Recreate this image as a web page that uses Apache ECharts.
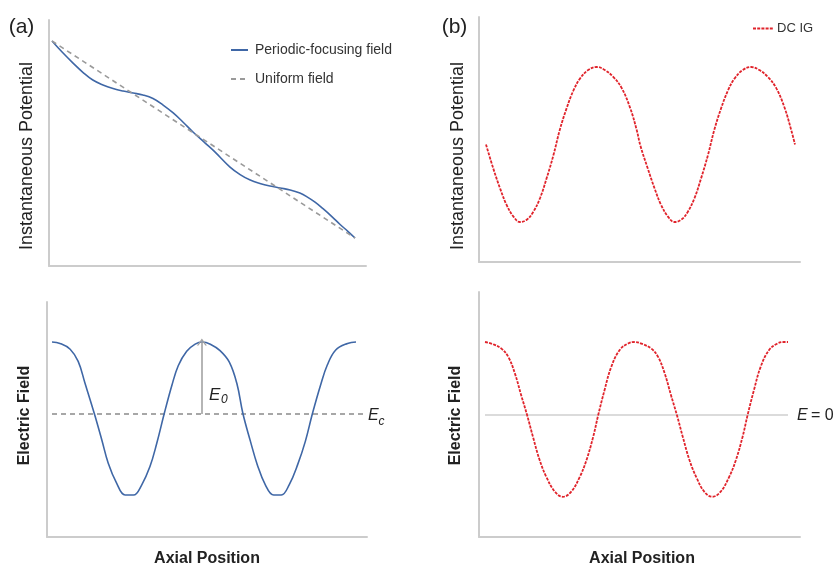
<!DOCTYPE html>
<html>
<head>
<meta charset="utf-8">
<script src="https://cdn.jsdelivr.net/npm/echarts@6/dist/echarts.min.js"></script>
<style>
  html, body { margin: 0; padding: 0; background: #ffffff; }
  #chart { width: 834px; height: 568px; }
</style>
</head>
<body>
<div id="chart"></div>
<script>
// ---------- Data (arbitrary units) ----------
// Panel (a) top: instantaneous potential vs axial position (phase units 0..720)
const axialPotA = [0,24,50,74,97,121,145,169,193,216,240,264,288,311,335,364,387,423,447,471,494,518,542,566,589,606,625,644,665,684,703,720];
const potentialPeriodic = [100,94.4,88.8,84.0,80.2,77.7,75.9,74.6,73.6,72.6,70.8,67.5,63.5,58.9,53.8,48.2,43.7,36.0,32.2,29.4,27.7,26.4,25.4,24.4,22.8,20.9,18.2,14.9,10.9,7.0,3.4,0];
const axialUniform = [0,720];
const potentialUniform = [100,0];

// Panel (a) bottom: electric field (periodic focusing)
const axialFieldA = [0,19,43,62,78,100,118,133,153,173,193,212,232,248,266,284,299,319,339,356,375,398,420,438,452,470,486,505,525,543,562,582,600,617,636,652,672,700,720];
const fieldPeriodic = [3.00,2.98,2.90,2.73,2.43,2.01,1.64,1.32,1.04,0.875,0.875,1.01,1.27,1.59,2.01,2.40,2.67,2.87,2.97,3.00,2.97,2.88,2.72,2.42,2.01,1.62,1.30,1.02,0.875,0.875,1.02,1.30,1.62,2.01,2.40,2.68,2.89,2.98,3.00];
const axialEc = [0,737];
const fieldEc = [2,2];
const arrowAxial = 355;     // position of the E0 arrow (at a field peak)
const arrowFrom = 2;        // Ec level
const arrowTo = 3;          // peak level

// Panel (b) top: DC IG instantaneous potential
const axialPotB = [0,17,33,48,64,79,95,110,126,141,157,172,188,204,219,238,258,277,297,316,336,351,360,377,393,408,424,439,455,470,486,501,517,532,548,564,579,598,618,637,657,676,696,711,720];
const potentialDCIG = [0,-0.31,-0.57,-0.78,-0.93,-1.00,-0.97,-0.87,-0.69,-0.44,-0.14,0.19,0.47,0.70,0.85,0.96,1.00,0.96,0.87,0.73,0.47,0.19,-0.02,-0.31,-0.57,-0.78,-0.93,-1.00,-0.97,-0.87,-0.69,-0.44,-0.14,0.19,0.47,0.70,0.85,0.96,1.00,0.96,0.87,0.73,0.47,0.19,0];

// Panel (b) bottom: DC IG electric field
const axialFieldB = [0,19,39,55,71,86,100,114,130,146,166,185,205,225,241,257,269,284,300,320,340,356,375,395,411,427,442,456,470,486,502,521,540,560,580,596,612,624,639,655,675,695,710,720];
const fieldDCIG = [1.0,0.97,0.91,0.80,0.57,0.27,0.0,-0.30,-0.62,-0.85,-1.05,-1.12,-1.05,-0.85,-0.62,-0.30,0.0,0.34,0.66,0.89,0.98,1.0,0.97,0.91,0.80,0.57,0.27,0.0,-0.30,-0.62,-0.85,-1.05,-1.12,-1.05,-0.85,-0.62,-0.30,0.0,0.34,0.66,0.89,0.98,1.0,1.0];
const axialZero = [0,720];
const fieldZero = [0,0];

// ---------- Helpers ----------
const pairs = (xs, ys) => xs.map((x, i) => [x, ys[i]]);
const FONT = '"Liberation Sans", Arial, sans-serif';
const BLUE = '#3f67a6';
const RED = '#e0232b';
const AXIS = { show: true, onZero: false, lineStyle: { color: '#cccccc', width: 2 } };
const HIDDEN_SYMBOL = { color: 'rgba(0,0,0,0)', borderColor: 'rgba(0,0,0,0)', borderWidth: 0, opacity: 0 };

function valAxis(gridIndex, min, max) {
  return {
    type: 'value', gridIndex, min, max,
    axisLine: AXIS, axisTick: { show: false }, axisLabel: { show: false },
    splitLine: { show: false }
  };
}

const chart = echarts.init(document.getElementById('chart'), null, { renderer: 'canvas' });

const option = {
  animation: false,
  backgroundColor: '#ffffff',
  grid: [
    { left: 49, top: 20, width: 317, height: 246 },
    { left: 47, top: 302, width: 320, height: 235 },
    { left: 479, top: 17, width: 321, height: 245 },
    { left: 479, top: 292, width: 321, height: 245 }
  ],
  xAxis: [
    valAxis(0, -7.13, 746.1),
    valAxis(1, -11.84, 746.05),
    valAxis(2, -16.31, 731.65),
    valAxis(3, -14.26, 748.5)
  ],
  yAxis: [
    valAxis(0, -14.2, 110.66),
    valAxis(1, 0.2917, 3.5556),
    valAxis(2, -1.516, 1.645),
    valAxis(3, -1.671, 1.685)
  ],
  legend: [
    {
      data: ['Periodic-focusing field', 'Uniform field'],
      orient: 'vertical', left: 230, top: 43, padding: 0,
      itemWidth: 17, itemHeight: 14, itemGap: 15,
      itemStyle: HIDDEN_SYMBOL,
      textStyle: { fontFamily: FONT, fontSize: 14, color: '#333333', padding: [0, 0, 0, 2] },
      selectedMode: false
    },
    {
      data: ['DC IG'],
      orient: 'vertical', left: 752, top: 22, padding: 0,
      itemWidth: 20, itemHeight: 14,
      itemStyle: HIDDEN_SYMBOL,
      textStyle: { fontFamily: FONT, fontSize: 13, color: '#333333', padding: [0, 0, 0, -1] },
      selectedMode: false
    }
  ],
  series: [
    {
      name: 'Periodic-focusing field', type: 'line', xAxisIndex: 0, yAxisIndex: 0,
      data: pairs(axialPotA, potentialPeriodic), smooth: 0.4, symbol: 'none',
      lineStyle: { color: BLUE, width: 1.6 }, itemStyle: { color: BLUE }, silent: true
    },
    {
      name: 'Uniform field', type: 'line', xAxisIndex: 0, yAxisIndex: 0,
      data: pairs(axialUniform, potentialUniform), symbol: 'none',
      lineStyle: { color: '#9a9a9a', width: 1.6, type: [5, 4] }, itemStyle: { color: '#9a9a9a' }, silent: true
    },
    {
      name: 'E field (periodic)', type: 'line', xAxisIndex: 1, yAxisIndex: 1,
      data: pairs(axialFieldA, fieldPeriodic), smooth: 0.4, symbol: 'none',
      lineStyle: { color: BLUE, width: 1.6 }, itemStyle: { color: BLUE }, silent: true
    },
    {
      name: 'Ec', type: 'line', xAxisIndex: 1, yAxisIndex: 1,
      data: pairs(axialEc, fieldEc), symbol: 'none', z: 1,
      lineStyle: { color: '#8a8a8a', width: 1.3, type: [5, 4] }, silent: true,
      markLine: {
        silent: true, animation: false,
        symbol: ['none', 'path://M0,10L5,0L10,10L8.4,10L5,3.2L1.6,10Z'],
        symbolSize: [10, 7],
        label: { show: false },
        lineStyle: { color: '#a3a3a3', width: 1.6, type: 'solid' },
        data: [[{ coord: [arrowAxial, arrowFrom] }, { coord: [arrowAxial, arrowTo] }]]
      }
    },
    {
      name: 'DC IG', type: 'line', xAxisIndex: 2, yAxisIndex: 2,
      data: pairs(axialPotB, potentialDCIG), smooth: 0.4, symbol: 'none',
      lineStyle: { color: RED, width: 1.8, type: [3, 1.2] }, itemStyle: { color: RED }, silent: true
    },
    {
      name: 'E = 0 line', type: 'line', xAxisIndex: 3, yAxisIndex: 3,
      data: pairs(axialZero, fieldZero), symbol: 'none', z: 1,
      lineStyle: { color: '#cfcfcf', width: 1.6 }, silent: true
    },
    {
      name: 'DC IG field', type: 'line', xAxisIndex: 3, yAxisIndex: 3,
      data: pairs(axialFieldB, fieldDCIG), smooth: 0.4, symbol: 'none',
      lineStyle: { color: RED, width: 1.8, type: [3, 1.2] }, itemStyle: { color: RED }, silent: true
    }
  ],
  graphic: [
    { type: 'text', x: 21.5, y: 27.5, style: { text: '(a)', fontFamily: FONT, fontSize: 21, fill: '#222', align: 'center', verticalAlign: 'middle' } },
    { type: 'text', x: 454.5, y: 27.5, style: { text: '(b)', fontFamily: FONT, fontSize: 21, fill: '#222', align: 'center', verticalAlign: 'middle' } },
    { type: 'text', x: 27, y: 156, rotation: Math.PI / 2, style: { text: 'Instantaneous Potential', fontFamily: FONT, fontSize: 18, fill: '#222', align: 'center', verticalAlign: 'middle' } },
    { type: 'text', x: 458, y: 156, rotation: Math.PI / 2, style: { text: 'Instantaneous Potential', fontFamily: FONT, fontSize: 18, fill: '#222', align: 'center', verticalAlign: 'middle' } },
    { type: 'text', x: 25, y: 415.5, rotation: Math.PI / 2, style: { text: 'Electric Field', fontFamily: FONT, fontSize: 16, fontWeight: 'bold', fill: '#222', align: 'center', verticalAlign: 'middle' } },
    { type: 'text', x: 456, y: 415.5, rotation: Math.PI / 2, style: { text: 'Electric Field', fontFamily: FONT, fontSize: 16, fontWeight: 'bold', fill: '#222', align: 'center', verticalAlign: 'middle' } },
    { type: 'text', x: 207, y: 559, style: { text: 'Axial Position', fontFamily: FONT, fontSize: 16, fontWeight: 'bold', fill: '#222', align: 'center', verticalAlign: 'middle' } },
    { type: 'text', x: 642, y: 559, style: { text: 'Axial Position', fontFamily: FONT, fontSize: 16, fontWeight: 'bold', fill: '#222', align: 'center', verticalAlign: 'middle' } },
    // E0 annotation
    { type: 'text', x: 209, y: 395, style: { text: 'E', fontFamily: FONT, fontSize: 17, fontStyle: 'italic', fill: '#222', align: 'left', verticalAlign: 'middle' } },
    { type: 'text', x: 221, y: 400, style: { text: '0', fontFamily: FONT, fontSize: 12, fontStyle: 'italic', fill: '#222', align: 'left', verticalAlign: 'middle' } },
    // Ec annotation
    { type: 'text', x: 368, y: 416, style: { text: 'E', fontFamily: FONT, fontSize: 16, fontStyle: 'italic', fill: '#222', align: 'left', verticalAlign: 'middle' } },
    { type: 'text', x: 378.5, y: 421.5, style: { text: 'c', fontFamily: FONT, fontSize: 12, fontStyle: 'italic', fill: '#222', align: 'left', verticalAlign: 'middle' } },
    // E = 0 annotation
    { type: 'text', x: 797, y: 416, style: { text: 'E', fontFamily: FONT, fontSize: 16, fontStyle: 'italic', fill: '#222', align: 'left', verticalAlign: 'middle' } },
    { type: 'text', x: 811, y: 416, style: { text: '= 0', fontFamily: FONT, fontSize: 16, fill: '#222', align: 'left', verticalAlign: 'middle' } }
  ]
};

chart.setOption(option);
</script>
</body>
</html>
